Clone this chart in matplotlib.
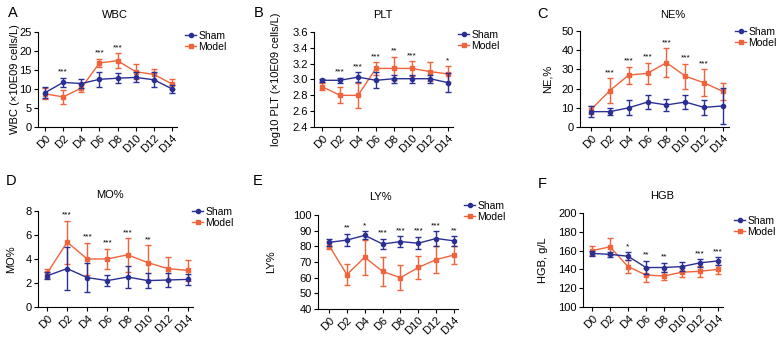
import matplotlib
matplotlib.use("Agg")
import matplotlib.pyplot as plt
from matplotlib.lines import Line2D
import numpy as np

plt.rcParams['font.family'] = ['Liberation Sans', 'DejaVu Sans']

days = ["D0", "D2", "D4", "D6", "D8", "D10", "D12", "D14"]

wbc_sham = [9.0, 11.7, 11.4, 12.5, 12.8, 13.0, 12.4, 10.0]
wbc_sham_err = [1.5, 1.2, 1.2, 1.9, 1.3, 1.3, 2.0, 1.0]
wbc_model = [8.7, 7.9, 10.2, 16.8, 17.4, 14.5, 13.8, 11.3]
wbc_model_err = [1.4, 1.8, 1.1, 1.1, 1.9, 2.0, 1.5, 1.4]
wbc_stars = ["", "***", "", "***", "***", "", "", ""]

plt_sham = [2.99, 2.99, 3.03, 2.99, 3.01, 3.01, 3.01, 2.96]
plt_sham_err = [0.02, 0.03, 0.06, 0.10, 0.05, 0.05, 0.05, 0.12]
plt_model = [2.91, 2.80, 2.80, 3.14, 3.14, 3.14, 3.10, 3.07]
plt_model_err = [0.04, 0.10, 0.16, 0.08, 0.15, 0.09, 0.12, 0.10]
plt_stars = ["", "***", "***", "***", "**", "***", "", "*"]

ne_sham = [8.0, 8.0, 10.0, 13.0, 11.5, 13.0, 10.2, 11.0]
ne_sham_err = [3.0, 2.0, 4.0, 3.5, 3.0, 3.5, 4.0, 9.5]
ne_model = [9.0, 19.0, 27.0, 28.0, 33.5, 26.5, 23.0, 18.5]
ne_model_err = [2.0, 6.5, 4.5, 5.5, 7.5, 6.5, 7.0, 4.5]
ne_stars = ["", "***", "***", "***", "***", "***", "***", ""]

mo_sham = [2.6, 3.2, 2.45, 2.2, 2.5, 2.2, 2.25, 2.3]
mo_sham_err = [0.3, 1.8, 1.2, 0.45, 0.9, 0.6, 0.55, 0.45]
mo_model = [2.8, 5.4, 4.0, 4.0, 4.35, 3.7, 3.2, 3.05]
mo_model_err = [0.4, 1.8, 1.35, 0.85, 1.4, 1.45, 0.95, 0.85]
mo_stars = ["", "***", "***", "***", "***", "**", "", ""]

ly_sham = [82.5, 84.0, 87.0, 81.5, 83.0, 82.0, 85.0, 83.5]
ly_sham_err = [2.0, 4.0, 2.5, 3.5, 3.5, 4.0, 4.5, 3.0]
ly_model = [80.5, 62.0, 73.0, 64.0, 60.0, 66.5, 71.5, 74.5]
ly_model_err = [2.0, 6.5, 11.0, 9.0, 8.0, 7.5, 8.5, 6.0]
ly_stars = ["", "**", "*", "***", "***", "***", "***", "**"]

hgb_sham = [157, 156, 154, 142, 142, 143, 147, 149]
hgb_sham_err = [3, 3, 4, 7, 5, 5, 4, 4]
hgb_model = [160, 164, 143, 134, 133, 137, 138, 140]
hgb_model_err = [5, 9, 7, 7, 4, 5, 6, 5]
hgb_stars = ["", "", "*", "**", "**", "", "***", "***"]

SHAM = "#2a2f93"
MODEL = "#f0643c"

W, H = 777, 339
fig = plt.figure(figsize=(W / 100, H / 100), dpi=100)

def fx(px):
    return px / W

def fy(py):
    return (H - py) / H

panels = [
    dict(letter="A", title="WBC", ylabel="WBC (×10E09 cells/L)",
         px=(38, 45, 172, 31.7, 127, 7.28), letter_xy=(8, 6), title_xy=(115, 15),
         ylab_x=16, leg_xy=(185, 37),
         ylim=(0, 25), yticks=[0, 5, 10, 15, 20, 25], fmt="{:.0f}",
         sham=wbc_sham, se=wbc_sham_err, model=wbc_model, me=wbc_model_err, stars=wbc_stars),
    dict(letter="B", title="PLT", ylabel="log10 PLT (×10E09 cells/L)",
         px=(314, 322, 448, 32, 127, 7.3), letter_xy=(254, 6), title_xy=(383, 15),
         ylab_x=277, leg_xy=(458, 36),
         ylim=(2.4, 3.6), yticks=[2.4, 2.6, 2.8, 3.0, 3.2, 3.4, 3.6], fmt="{:.1f}",
         sham=plt_sham, se=plt_sham_err, model=plt_model, me=plt_model_err, stars=plt_stars),
    dict(letter="C", title="NE%", ylabel="NE,%",
         px=(580, 591, 723, 31, 127, 7.3), letter_xy=(537, 7), title_xy=(673, 15),
         ylab_x=549, leg_xy=(735, 33),
         ylim=(0, 50), yticks=[0, 10, 20, 30, 40, 50], fmt="{:.0f}",
         sham=ne_sham, se=ne_sham_err, model=ne_model, me=ne_model_err, stars=ne_stars),
    dict(letter="D", title="MO%", ylabel="MO%",
         px=(38, 47, 188, 211, 307, 7.25), letter_xy=(6, 174), title_xy=(110, 195),
         ylab_x=12, leg_xy=(192, 213),
         ylim=(0, 8), yticks=[0, 2, 4, 6, 8], fmt="{:.0f}",
         sham=mo_sham, se=mo_sham_err, model=mo_model, me=mo_model_err, stars=mo_stars),
    dict(letter="E", title="LY%", ylabel="LY%",
         px=(318, 329, 454, 215, 309, 7.25), letter_xy=(253, 174), title_xy=(380, 197),
         ylab_x=272, leg_xy=(464, 207),
         ylim=(40, 100), yticks=[40, 50, 60, 70, 80, 90, 100], fmt="{:.0f}",
         sham=ly_sham, se=ly_sham_err, model=ly_model, me=ly_model_err, stars=ly_stars),
    dict(letter="F", title="HGB", ylabel="HGB, g/L",
         px=(583, 592, 718, 213, 307, 7.25), letter_xy=(538, 177), title_xy=(662, 196),
         ylab_x=544, leg_xy=(734, 222),
         ylim=(100, 200), yticks=[100, 120, 140, 160, 180, 200], fmt="{:.0f}",
         sham=hgb_sham, se=hgb_sham_err, model=hgb_model, me=hgb_model_err, stars=hgb_stars),
]

handles = [Line2D([], [], color=SHAM, marker="o", ms=3, lw=1.0, label="Sham"),
           Line2D([], [], color=MODEL, marker="s", ms=3.5, lw=1.0, label="Model")]

x = np.arange(len(days))
for p in panels:
    left, d0, d14, top, bot, xr = p["px"]
    sp = (d14 - d0) / 7.0
    xl = -(d0 - left) / sp
    right = d14 + (xr - 7) * sp
    ax = fig.add_axes([fx(left), fy(bot), (right - left) / W, (bot - top) / H])
    ax.errorbar(x, p["sham"], yerr=p["se"], color=SHAM, marker="o", ms=3, lw=1.0,
                capsize=2.5, capthick=1.0, elinewidth=1.0, zorder=3)
    ax.errorbar(x, p["model"], yerr=p["me"], color=MODEL, marker="s", ms=3.5, lw=1.0,
                capsize=2.5, capthick=1.0, elinewidth=1.0, zorder=2)
    ax.set_xlim(xl, xr)
    ax.set_ylim(*p["ylim"])
    ax.set_yticks(p["yticks"])
    ax.set_yticklabels([p["fmt"].format(v) for v in p["yticks"]], fontsize=8)
    ax.set_xticks(x)
    ax.set_xticklabels(days, rotation=45, ha="right", rotation_mode="anchor", fontsize=8)
    ax.spines["top"].set_visible(False)
    ax.spines["right"].set_visible(False)
    ax.tick_params(length=3, width=0.8, pad=1.5)
    ax.set_ylabel(p["ylabel"], fontsize=8)
    ax.yaxis.set_label_coords(fx(p["ylab_x"] + 4), fy((top + bot) / 2), transform=fig.transFigure)
    for i, s in enumerate(p["stars"]):
        if s:
            top_val = max(p["sham"][i] + p["se"][i], p["model"][i] + p["me"][i])
            ax.annotate(s, (x[i], top_val), xytext=(0, 1.5), textcoords="offset points",
                        ha="center", va="bottom", fontsize=6, annotation_clip=False)
    lx, ly = p["leg_xy"]
    ax.legend(handles=handles, loc="upper left", bbox_to_anchor=(fx(lx), fy(ly - 6)),
              bbox_transform=fig.transFigure, frameon=False, fontsize=7.5,
              handlelength=1.1, handletextpad=0.2, labelspacing=0.1,
              borderaxespad=0.0, borderpad=0.0)
    fig.text(fx(p["title_xy"][0]), fy(p["title_xy"][1]), p["title"], fontsize=8,
             ha="center", va="center")
    fig.text(fx(p["letter_xy"][0]), fy(p["letter_xy"][1]), p["letter"], fontsize=10.5,
             ha="left", va="top")

fig.savefig("out.png", dpi=100)
